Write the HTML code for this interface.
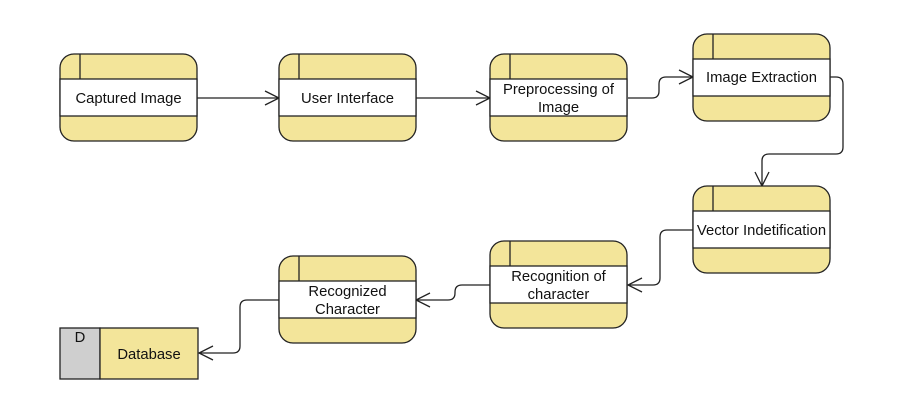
<!DOCTYPE html>
<html><head><meta charset="utf-8"><style>
html,body{margin:0;padding:0;background:#fff;}
svg{display:block;}
text{font-family:"Liberation Sans",Arial,sans-serif;font-size:14.8px;fill:#111;}
</style></head><body>
<svg width="899" height="419" viewBox="0 0 899 419" xmlns="http://www.w3.org/2000/svg">
<defs>
<g id="node">
  <rect x="0" y="0" width="137" height="87" rx="14" ry="14" fill="#f3e59a" stroke="#222" stroke-width="1.3"/>
  <rect x="0" y="25" width="137" height="37" fill="#fff" stroke="#222" stroke-width="1.3"/>
  <line x1="20" y1="0.5" x2="20" y2="25" stroke="#222" stroke-width="1.3"/>
</g>
</defs>
<g fill="none" stroke="#222" stroke-width="1.3">
  <path d="M197 98 H279"/><path d="M265 91 L279 98 L265 105"/>
  <path d="M416 98 H490"/><path d="M476 91 L490 98 L476 105"/>
  <path d="M628 98 H652 Q659 98 659 91 V84 Q659 77 666 77 H693"/><path d="M679 70 L693 77 L679 84"/>
  <path d="M830 77 H836 Q843 77 843 84 V147 Q843 154 836 154 H769 Q762 154 762 161 V186"/><path d="M755 172 L762 186 L769 172"/>
  <path d="M693 230 H667 Q660 230 660 237 V278 Q660 285 653 285 H628"/><path d="M642 278 L628 285 L642 292"/>
  <path d="M490 285 H462 Q455 285 455 292 V293 Q455 300 448 300 H416"/><path d="M430 293 L416 300 L430 307"/>
  <path d="M279 300 H247 Q240 300 240 307 V346 Q240 353 233 353 H199"/><path d="M213 346 L199 353 L213 360"/>
</g>
<use href="#node" x="60" y="54"/>
<use href="#node" x="279" y="54"/>
<use href="#node" x="490" y="54"/>
<use href="#node" x="693" y="34"/>
<use href="#node" x="693" y="186"/>
<use href="#node" x="490" y="241"/>
<use href="#node" x="279" y="256"/>
<text x="128.5" y="103" text-anchor="middle">Captured Image</text>
<text x="347.5" y="103" text-anchor="middle">User Interface</text>
<text x="558.5" y="94" text-anchor="middle">Preprocessing of</text>
<text x="558.5" y="112" text-anchor="middle">Image</text>
<text x="761.5" y="82" text-anchor="middle">Image Extraction</text>
<text x="761.5" y="235" text-anchor="middle">Vector Indetification</text>
<text x="558.5" y="281" text-anchor="middle">Recognition of</text>
<text x="558.5" y="299" text-anchor="middle">character</text>
<text x="347.5" y="296" text-anchor="middle">Recognized</text>
<text x="347.5" y="314" text-anchor="middle">Character</text>
<rect x="60" y="328" width="40" height="51" fill="#cfcfcf" stroke="#222" stroke-width="1.3"/>
<rect x="100" y="328" width="98" height="51" fill="#f3e59a" stroke="#222" stroke-width="1.3"/>
<text x="80" y="342" text-anchor="middle">D</text>
<text x="149" y="359" text-anchor="middle">Database</text>
</svg>
</body></html>
